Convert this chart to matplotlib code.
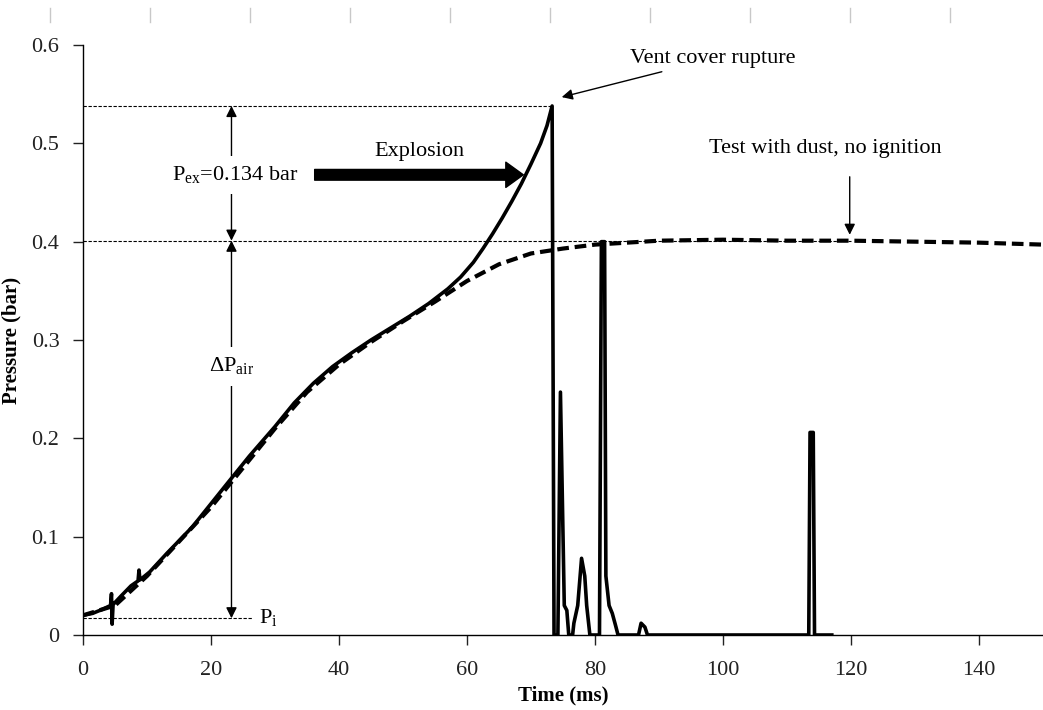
import matplotlib
matplotlib.use("Agg")
import matplotlib.pyplot as plt
from matplotlib.lines import Line2D

plt.rcParams['font.family'] = ['Liberation Serif', 'DejaVu Serif']
plt.rcParams['mathtext.fontset'] = 'custom'
plt.rcParams['mathtext.rm'] = 'Liberation Serif'

# explosion test (solid line)
t_expl = [0, 1.5, 3, 4.3, 4.45, 4.55, 4.7, 6, 7.5, 8.6, 8.75, 8.9, 10.4, 13.1, 17.1,
          22.4, 26, 30, 33, 36, 39, 42, 45, 48, 51, 54, 57, 59, 61, 62.5, 64,
          65.5, 67, 68.5, 70, 71.5, 72.5, 73.3, 73.6, 74.2, 74.6, 75.2, 75.6,
          75.9, 76.5, 76.7, 77.3, 77.9, 78.4, 78.7, 79.2, 80.7, 81.0, 81.5,
          81.7, 82.2, 82.7, 83.2, 83.6, 86.8, 87.2, 87.8, 88.2, 113.4, 113.6,
          114.1, 114.3, 117]
p_expl = [0.020, 0.022, 0.026, 0.030, 0.042, 0.011, 0.031, 0.040, 0.050, 0.055, 0.066, 0.056,
          0.064, 0.083, 0.110, 0.153, 0.182, 0.212, 0.236, 0.256, 0.273, 0.287,
          0.300, 0.312, 0.324, 0.337, 0.352, 0.364, 0.379, 0.393, 0.408, 0.424,
          0.441, 0.459, 0.479, 0.500, 0.518, 0.538, 0.0, 0.0, 0.247, 0.030,
          0.025, 0.0, 0.0, 0.012, 0.030, 0.078, 0.060, 0.030, 0.0, 0.0, 0.400,
          0.400, 0.060, 0.030, 0.022, 0.010, 0.0, 0.0, 0.012, 0.008, 0.0, 0.0,
          0.206, 0.206, 0.0, 0.0]

# test with dust, no ignition (dashed line)
t_dust = [0, 5, 10, 15, 20, 25, 30, 35, 40, 45, 50, 55, 60, 65, 70, 75, 80,
          85, 90, 100, 110, 120, 130, 140, 150]
p_dust = [0.020, 0.030, 0.060, 0.095, 0.130, 0.170, 0.210, 0.247, 0.275,
          0.298, 0.319, 0.339, 0.360, 0.377, 0.388, 0.393, 0.397, 0.399,
          0.401, 0.402, 0.401, 0.401, 0.400, 0.399, 0.397]

p_peak = 0.538
p_air = 0.401
p_init = 0.017
x_arrow = 23.2

fig = plt.figure(figsize=(10.43, 7.10), dpi=100)
ax = fig.add_axes([83 / 1043, 75 / 710, 960 / 1043, 590 / 710])

ax.plot(t_dust, p_dust, color='k', lw=3.0, linestyle=(0, (2.8, 1.4)), zorder=3)
ax.plot(t_expl, p_expl, color='k', lw=2.6, zorder=4)

# reference levels
ax.plot([0, 73.3], [p_peak, p_peak], color='k', lw=0.8, ls=(0, (3, 1.5)))
ax.plot([0, 120], [p_air, p_air], color='k', lw=0.8, ls=(0, (3, 1.5)))
ax.plot([0, 26.5], [p_init, p_init], color='k', lw=0.8, ls=(0, (3, 1.5)))

arrow = dict(arrowstyle='<|-|>', color='k', lw=1, mutation_scale=16,
             shrinkA=0, shrinkB=0)
ax.annotate('', xy=(x_arrow, p_peak), xytext=(x_arrow, p_air), arrowprops=arrow)
ax.annotate('', xy=(x_arrow, p_air), xytext=(x_arrow, p_init), arrowprops=arrow)

box = dict(facecolor='white', edgecolor='none', pad=6)
ax.text(x_arrow + 0.6, 0.468, r'P$_{\mathregular{ex}}$=0.134 bar', fontsize=16,
        ha='center', va='center', bbox=box, zorder=5)
ax.text(x_arrow, 0.273, r'$\Delta$P$_{\mathregular{air}}$', fontsize=16,
        ha='center', va='center', bbox=box, zorder=5)
ax.text(27.5, p_init, r'P$_{\mathregular{i}}$', fontsize=16, ha='left', va='center')

ax.text(52.5, 0.492, 'Explosion', fontsize=16, ha='center', va='center')
ax.annotate('', xy=(68.8, 0.468), xytext=(36.2, 0.468),
            arrowprops=dict(arrowstyle='simple,head_length=0.9,head_width=1.3,tail_width=0.55',
                            fc='k', ec='k', mutation_scale=14, shrinkA=0, shrinkB=0))

ax.annotate('Vent cover rupture', xy=(74.8, 0.547), xytext=(85.5, 0.586),
            fontsize=16, ha='left', va='center',
            arrowprops=dict(arrowstyle='-|>', color='k', lw=1, mutation_scale=16,
                            shrinkA=2, shrinkB=0))
ax.text(116, 0.495, 'Test with dust, no ignition', fontsize=16, ha='center', va='center')
ax.annotate('', xy=(119.8, 0.407), xytext=(119.8, 0.466),
            arrowprops=dict(arrowstyle='-|>', color='k', lw=1, mutation_scale=16,
                            shrinkA=0, shrinkB=0))

ax.set_xlim(0, 150)
ax.set_ylim(0, 0.6)
ax.set_xticks([0, 20, 40, 60, 80, 100, 120, 140])
ax.set_yticks([0, 0.1, 0.2, 0.3, 0.4, 0.5, 0.6])
ax.set_yticklabels(['0', '0.1', '0.2', '0.3', '0.4', '0.5', '0.6'])
ax.tick_params(axis='both', direction='out', length=7, width=1, labelsize=16,
               colors='#222222')
ax.tick_params(axis='x', pad=12)
ax.tick_params(axis='y', pad=10)
for side in ['top', 'right']:
    ax.spines[side].set_visible(False)
for side in ['left', 'bottom']:
    ax.spines[side].set_linewidth(1)

ax.set_xlabel('Time (ms)', fontsize=15, fontweight='bold', labelpad=4)
ax.set_ylabel('Pressure (bar)', fontsize=15, fontweight='bold')
ax.yaxis.set_label_coords(-0.064, 0.5)

# faint ruler marks along the top edge
for px in range(50, 1000, 100):
    fig.add_artist(Line2D([px / 1043, px / 1043], [1 - 8 / 710, 1 - 22 / 710],
                          color='#c8c8c8', lw=1))

fig.savefig('out.png', dpi=100)
